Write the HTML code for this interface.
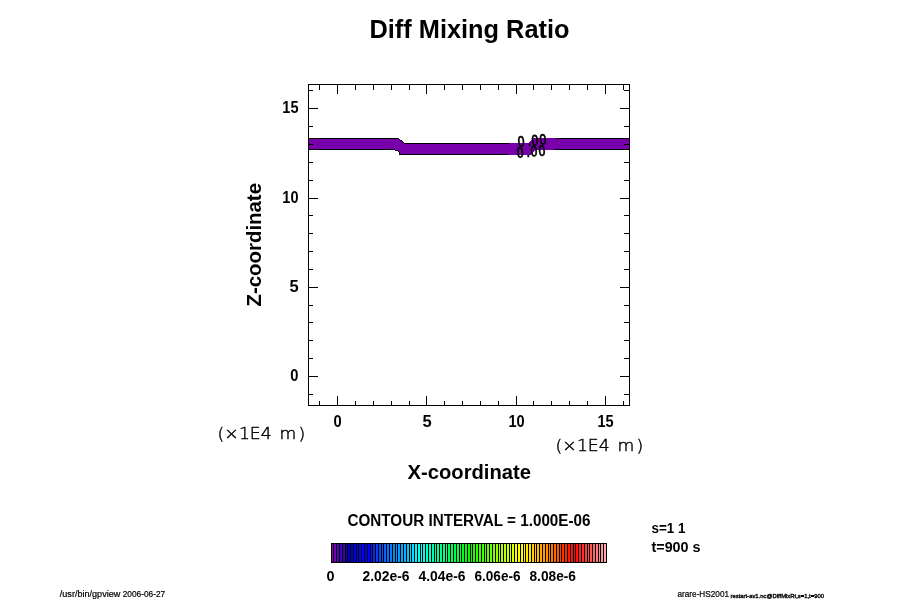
<!DOCTYPE html>
<html><head><meta charset="utf-8"><title>Diff Mixing Ratio</title>
<style>html,body{margin:0;padding:0;background:#fff;overflow:hidden}svg{display:block}</style></head>
<body>
<svg width="900" height="600" viewBox="0 0 900 600">
<rect width="900" height="600" fill="#fff"/>
<g shape-rendering="crispEdges">
<polygon points="309,138 399,138 399,139 400,139 400,140 402,140 402,141 403,141 403,142 404,142 404,143 528,143 533,138 629,138 629,150 535.5,150 530.5,155 399,155 399,152 398,152 398,151 395,151 395,150 309,150" fill="#7800aa"/>
<rect x="309" y="138" width="90" height="1" fill="#000"/>
<rect x="399" y="139" width="1" height="1" fill="#000"/>
<rect x="400" y="140" width="2" height="1" fill="#000"/>
<rect x="402" y="141" width="1" height="1" fill="#000"/>
<rect x="403" y="142" width="1" height="1" fill="#000"/>
<rect x="404" y="143" width="105" height="1" fill="#000"/>
<rect x="556" y="138" width="73" height="1" fill="#000"/>
<rect x="309" y="149" width="86" height="1" fill="#000"/>
<rect x="395" y="150" width="3" height="1" fill="#000"/>
<rect x="398" y="151" width="1" height="1" fill="#000"/>
<rect x="399" y="152" width="1" height="2" fill="#000"/>
<rect x="399" y="154" width="109" height="1" fill="#000"/>
<rect x="554" y="149" width="75" height="1" fill="#000"/>
<rect x="308" y="84" width="322" height="1" fill="#000"/>
<rect x="308" y="405" width="322" height="1" fill="#000"/>
<rect x="308" y="84" width="1" height="322" fill="#000"/>
<rect x="629" y="84" width="1" height="322" fill="#000"/>
<rect x="319" y="401" width="1" height="5" fill="#000"/>
<rect x="319" y="84" width="1" height="6" fill="#000"/>
<rect x="308" y="394" width="5" height="1" fill="#000"/>
<rect x="624" y="394" width="6" height="1" fill="#000"/>
<rect x="337" y="396" width="1" height="10" fill="#000"/>
<rect x="337" y="84" width="1" height="10" fill="#000"/>
<rect x="308" y="376" width="10" height="1" fill="#000"/>
<rect x="620" y="376" width="10" height="1" fill="#000"/>
<rect x="355" y="401" width="1" height="5" fill="#000"/>
<rect x="355" y="84" width="1" height="6" fill="#000"/>
<rect x="308" y="358" width="5" height="1" fill="#000"/>
<rect x="624" y="358" width="6" height="1" fill="#000"/>
<rect x="373" y="401" width="1" height="5" fill="#000"/>
<rect x="373" y="84" width="1" height="6" fill="#000"/>
<rect x="308" y="340" width="5" height="1" fill="#000"/>
<rect x="624" y="340" width="6" height="1" fill="#000"/>
<rect x="391" y="401" width="1" height="5" fill="#000"/>
<rect x="391" y="84" width="1" height="6" fill="#000"/>
<rect x="308" y="322" width="5" height="1" fill="#000"/>
<rect x="624" y="322" width="6" height="1" fill="#000"/>
<rect x="409" y="401" width="1" height="5" fill="#000"/>
<rect x="409" y="84" width="1" height="6" fill="#000"/>
<rect x="308" y="305" width="5" height="1" fill="#000"/>
<rect x="624" y="305" width="6" height="1" fill="#000"/>
<rect x="426" y="396" width="1" height="10" fill="#000"/>
<rect x="426" y="84" width="1" height="10" fill="#000"/>
<rect x="308" y="287" width="10" height="1" fill="#000"/>
<rect x="620" y="287" width="10" height="1" fill="#000"/>
<rect x="444" y="401" width="1" height="5" fill="#000"/>
<rect x="444" y="84" width="1" height="6" fill="#000"/>
<rect x="308" y="269" width="5" height="1" fill="#000"/>
<rect x="624" y="269" width="6" height="1" fill="#000"/>
<rect x="462" y="401" width="1" height="5" fill="#000"/>
<rect x="462" y="84" width="1" height="6" fill="#000"/>
<rect x="308" y="251" width="5" height="1" fill="#000"/>
<rect x="624" y="251" width="6" height="1" fill="#000"/>
<rect x="480" y="401" width="1" height="5" fill="#000"/>
<rect x="480" y="84" width="1" height="6" fill="#000"/>
<rect x="308" y="233" width="5" height="1" fill="#000"/>
<rect x="624" y="233" width="6" height="1" fill="#000"/>
<rect x="498" y="401" width="1" height="5" fill="#000"/>
<rect x="498" y="84" width="1" height="6" fill="#000"/>
<rect x="308" y="215" width="5" height="1" fill="#000"/>
<rect x="624" y="215" width="6" height="1" fill="#000"/>
<rect x="516" y="396" width="1" height="10" fill="#000"/>
<rect x="516" y="84" width="1" height="10" fill="#000"/>
<rect x="308" y="198" width="10" height="1" fill="#000"/>
<rect x="620" y="198" width="10" height="1" fill="#000"/>
<rect x="533" y="401" width="1" height="5" fill="#000"/>
<rect x="533" y="84" width="1" height="6" fill="#000"/>
<rect x="308" y="180" width="5" height="1" fill="#000"/>
<rect x="624" y="180" width="6" height="1" fill="#000"/>
<rect x="551" y="401" width="1" height="5" fill="#000"/>
<rect x="551" y="84" width="1" height="6" fill="#000"/>
<rect x="308" y="162" width="5" height="1" fill="#000"/>
<rect x="624" y="162" width="6" height="1" fill="#000"/>
<rect x="569" y="401" width="1" height="5" fill="#000"/>
<rect x="569" y="84" width="1" height="6" fill="#000"/>
<rect x="308" y="144" width="5" height="1" fill="#000"/>
<rect x="624" y="144" width="6" height="1" fill="#000"/>
<rect x="587" y="401" width="1" height="5" fill="#000"/>
<rect x="587" y="84" width="1" height="6" fill="#000"/>
<rect x="308" y="126" width="5" height="1" fill="#000"/>
<rect x="624" y="126" width="6" height="1" fill="#000"/>
<rect x="605" y="396" width="1" height="10" fill="#000"/>
<rect x="605" y="84" width="1" height="10" fill="#000"/>
<rect x="308" y="108" width="10" height="1" fill="#000"/>
<rect x="620" y="108" width="10" height="1" fill="#000"/>
<rect x="623" y="401" width="1" height="5" fill="#000"/>
<rect x="623" y="84" width="1" height="6" fill="#000"/>
<rect x="308" y="90" width="5" height="1" fill="#000"/>
<rect x="624" y="90" width="6" height="1" fill="#000"/>
<rect x="331" y="543" width="276" height="20" fill="#000"/>
<rect x="332" y="544" width="1" height="18" fill="#8800ad"/>
<rect x="334" y="544" width="2" height="18" fill="#7300bb"/>
<rect x="337" y="544" width="2" height="18" fill="#4f00c3"/>
<rect x="340" y="544" width="2" height="18" fill="#4600c1"/>
<rect x="343" y="544" width="2" height="18" fill="#3400b6"/>
<rect x="346" y="544" width="1" height="18" fill="#1000ac"/>
<rect x="348" y="544" width="2" height="18" fill="#0000b7"/>
<rect x="351" y="544" width="2" height="18" fill="#0000c8"/>
<rect x="354" y="544" width="2" height="18" fill="#0000dc"/>
<rect x="357" y="544" width="1" height="18" fill="#0000ee"/>
<rect x="359" y="544" width="2" height="18" fill="#0000ff"/>
<rect x="362" y="544" width="2" height="18" fill="#0000ff"/>
<rect x="365" y="544" width="2" height="18" fill="#0000ff"/>
<rect x="368" y="544" width="2" height="18" fill="#0000ff"/>
<rect x="371" y="544" width="1" height="18" fill="#0014ff"/>
<rect x="373" y="544" width="2" height="18" fill="#0028ff"/>
<rect x="376" y="544" width="2" height="18" fill="#0040ff"/>
<rect x="379" y="544" width="2" height="18" fill="#004eff"/>
<rect x="382" y="544" width="1" height="18" fill="#0059ff"/>
<rect x="384" y="544" width="2" height="18" fill="#0064ff"/>
<rect x="387" y="544" width="2" height="18" fill="#0071ff"/>
<rect x="390" y="544" width="2" height="18" fill="#007eff"/>
<rect x="393" y="544" width="2" height="18" fill="#008cff"/>
<rect x="396" y="544" width="1" height="18" fill="#0095ff"/>
<rect x="398" y="544" width="2" height="18" fill="#009eff"/>
<rect x="401" y="544" width="2" height="18" fill="#00a9ff"/>
<rect x="404" y="544" width="2" height="18" fill="#00b4ff"/>
<rect x="407" y="544" width="2" height="18" fill="#00c5ff"/>
<rect x="410" y="544" width="1" height="18" fill="#00d3ff"/>
<rect x="412" y="544" width="2" height="18" fill="#00e2ff"/>
<rect x="415" y="544" width="2" height="18" fill="#00f3ff"/>
<rect x="418" y="544" width="2" height="18" fill="#00fffa"/>
<rect x="421" y="544" width="1" height="18" fill="#00ffee"/>
<rect x="423" y="544" width="2" height="18" fill="#00ffe1"/>
<rect x="426" y="544" width="2" height="18" fill="#00ffd2"/>
<rect x="429" y="544" width="2" height="18" fill="#00ffc3"/>
<rect x="432" y="544" width="2" height="18" fill="#00ffb4"/>
<rect x="435" y="544" width="1" height="18" fill="#00ffa8"/>
<rect x="437" y="544" width="2" height="18" fill="#00ff9b"/>
<rect x="440" y="544" width="2" height="18" fill="#00ff8c"/>
<rect x="443" y="544" width="2" height="18" fill="#00ff7d"/>
<rect x="446" y="544" width="1" height="18" fill="#00ff70"/>
<rect x="448" y="544" width="2" height="18" fill="#00ff64"/>
<rect x="451" y="544" width="2" height="18" fill="#00ff55"/>
<rect x="454" y="544" width="2" height="18" fill="#00ff46"/>
<rect x="457" y="544" width="2" height="18" fill="#00ff37"/>
<rect x="460" y="544" width="1" height="18" fill="#00ff2a"/>
<rect x="462" y="544" width="2" height="18" fill="#00fe1d"/>
<rect x="465" y="544" width="2" height="18" fill="#00fb0b"/>
<rect x="468" y="544" width="2" height="18" fill="#05fb00"/>
<rect x="471" y="544" width="1" height="18" fill="#12fc00"/>
<rect x="473" y="544" width="2" height="18" fill="#1efe00"/>
<rect x="476" y="544" width="2" height="18" fill="#2cff00"/>
<rect x="479" y="544" width="2" height="18" fill="#3aff00"/>
<rect x="482" y="544" width="2" height="18" fill="#47ff00"/>
<rect x="485" y="544" width="1" height="18" fill="#53ff00"/>
<rect x="487" y="544" width="2" height="18" fill="#60ff00"/>
<rect x="490" y="544" width="2" height="18" fill="#70ff00"/>
<rect x="493" y="544" width="2" height="18" fill="#80ff00"/>
<rect x="496" y="544" width="2" height="18" fill="#91ff00"/>
<rect x="499" y="544" width="1" height="18" fill="#a0ff00"/>
<rect x="501" y="544" width="2" height="18" fill="#aeff00"/>
<rect x="504" y="544" width="2" height="18" fill="#beff00"/>
<rect x="507" y="544" width="2" height="18" fill="#ccff00"/>
<rect x="510" y="544" width="1" height="18" fill="#d9ff00"/>
<rect x="512" y="544" width="2" height="18" fill="#e4ff00"/>
<rect x="515" y="544" width="2" height="18" fill="#f2ff00"/>
<rect x="518" y="544" width="2" height="18" fill="#ffff00"/>
<rect x="521" y="544" width="2" height="18" fill="#fff700"/>
<rect x="524" y="544" width="1" height="18" fill="#fff000"/>
<rect x="526" y="544" width="2" height="18" fill="#ffe800"/>
<rect x="529" y="544" width="2" height="18" fill="#ffe000"/>
<rect x="532" y="544" width="2" height="18" fill="#ffd100"/>
<rect x="535" y="544" width="1" height="18" fill="#ffc500"/>
<rect x="537" y="544" width="2" height="18" fill="#ffb900"/>
<rect x="540" y="544" width="2" height="18" fill="#ffab00"/>
<rect x="543" y="544" width="2" height="18" fill="#ff9e00"/>
<rect x="546" y="544" width="2" height="18" fill="#ff9000"/>
<rect x="549" y="544" width="1" height="18" fill="#ff8400"/>
<rect x="551" y="544" width="2" height="18" fill="#ff7800"/>
<rect x="554" y="544" width="2" height="18" fill="#ff6900"/>
<rect x="557" y="544" width="2" height="18" fill="#ff5600"/>
<rect x="560" y="544" width="1" height="18" fill="#ff4400"/>
<rect x="562" y="544" width="2" height="18" fill="#ff3200"/>
<rect x="565" y="544" width="2" height="18" fill="#ff2500"/>
<rect x="568" y="544" width="2" height="18" fill="#ff1800"/>
<rect x="571" y="544" width="2" height="18" fill="#ff1103"/>
<rect x="574" y="544" width="1" height="18" fill="#ff0c08"/>
<rect x="576" y="544" width="2" height="18" fill="#ff0f0f"/>
<rect x="579" y="544" width="2" height="18" fill="#ff1e1e"/>
<rect x="582" y="544" width="2" height="18" fill="#ff2d2d"/>
<rect x="585" y="544" width="2" height="18" fill="#ff3c3c"/>
<rect x="588" y="544" width="1" height="18" fill="#ff4848"/>
<rect x="590" y="544" width="2" height="18" fill="#ff5555"/>
<rect x="593" y="544" width="2" height="18" fill="#ff6464"/>
<rect x="596" y="544" width="2" height="18" fill="#ff7878"/>
<rect x="599" y="544" width="1" height="18" fill="#ff8989"/>
<rect x="601" y="544" width="2" height="18" fill="#ff9898"/>
<rect x="604" y="544" width="2" height="18" fill="#ffaaaa"/>
</g>
<g fill="#000">
<text x="369.5" y="38" font-size="25" font-weight="bold" text-anchor="start" font-family='"Liberation Sans", sans-serif' textLength="200" lengthAdjust="spacingAndGlyphs" >Diff Mixing Ratio</text>
<text x="407.5" y="479" font-size="21" font-weight="bold" text-anchor="start" font-family='"Liberation Sans", sans-serif' textLength="123.5" lengthAdjust="spacingAndGlyphs" >X-coordinate</text>
<text transform="translate(261,306.5) rotate(-90)" font-size="21" font-weight="bold" font-family='"Liberation Sans", sans-serif' textLength="123.5" lengthAdjust="spacingAndGlyphs">Z-coordinate</text>
<text x="298.5" y="113" font-size="15.6" font-weight="bold" text-anchor="end" font-family='"Liberation Sans", sans-serif' textLength="16.2" lengthAdjust="spacingAndGlyphs" >15</text>
<text x="298.5" y="203" font-size="15.6" font-weight="bold" text-anchor="end" font-family='"Liberation Sans", sans-serif' textLength="16.2" lengthAdjust="spacingAndGlyphs" >10</text>
<text x="298.8" y="292" font-size="15.6" font-weight="bold" text-anchor="end" font-family='"Liberation Sans", sans-serif' textLength="9.2" lengthAdjust="spacingAndGlyphs" >5</text>
<text x="298.5" y="381" font-size="15.6" font-weight="bold" text-anchor="end" font-family='"Liberation Sans", sans-serif' textLength="8.2" lengthAdjust="spacingAndGlyphs" >0</text>
<text x="337.5" y="427" font-size="15.6" font-weight="bold" text-anchor="middle" font-family='"Liberation Sans", sans-serif' textLength="8.2" lengthAdjust="spacingAndGlyphs" >0</text>
<text x="427" y="427" font-size="15.6" font-weight="bold" text-anchor="middle" font-family='"Liberation Sans", sans-serif' textLength="9.2" lengthAdjust="spacingAndGlyphs" >5</text>
<text x="516.5" y="427" font-size="15.6" font-weight="bold" text-anchor="middle" font-family='"Liberation Sans", sans-serif' textLength="16.2" lengthAdjust="spacingAndGlyphs" >10</text>
<text x="605.5" y="427" font-size="15.6" font-weight="bold" text-anchor="middle" font-family='"Liberation Sans", sans-serif' textLength="16.2" lengthAdjust="spacingAndGlyphs" >15</text>
<text transform="scale(1.15,1)" x="189.22 195.04 207.74 217.13 226.70 236.52 243.04 259.65" y="438.7" font-size="15" font-weight="200" font-family='"DejaVu Sans Light", "DejaVu Sans", sans-serif' stroke="#000" stroke-width="0.4">(×1E4 m)</text>
<text transform="scale(1.15,1)" x="483.13 488.96 501.65 511.04 520.61 530.43 536.96 553.57" y="450.7" font-size="15" font-weight="200" font-family='"DejaVu Sans Light", "DejaVu Sans", sans-serif' stroke="#000" stroke-width="0.4">(×1E4 m)</text>
<text x="347.5" y="526.2" font-size="15.6" font-weight="bold" text-anchor="start" font-family='"Liberation Sans", sans-serif' textLength="243" lengthAdjust="spacingAndGlyphs" >CONTOUR INTERVAL = 1.000E-06</text>
<text x="651.5" y="533" font-size="14" font-weight="bold" text-anchor="start" font-family='"Liberation Sans", sans-serif' textLength="34" lengthAdjust="spacingAndGlyphs" >s=1 1</text>
<text x="651.5" y="552" font-size="14" font-weight="bold" text-anchor="start" font-family='"Liberation Sans", sans-serif' textLength="49" lengthAdjust="spacingAndGlyphs" >t=900 s</text>
<text x="326.5" y="581" font-size="14" font-weight="bold" text-anchor="start" font-family='"Liberation Sans", sans-serif' textLength="8" lengthAdjust="spacingAndGlyphs" >0</text>
<text x="362.5" y="581" font-size="14" font-weight="bold" text-anchor="start" font-family='"Liberation Sans", sans-serif' textLength="47" lengthAdjust="spacingAndGlyphs" >2.02e-6</text>
<text x="418.5" y="581" font-size="14" font-weight="bold" text-anchor="start" font-family='"Liberation Sans", sans-serif' textLength="47" lengthAdjust="spacingAndGlyphs" >4.04e-6</text>
<text x="474.5" y="581" font-size="14" font-weight="bold" text-anchor="start" font-family='"Liberation Sans", sans-serif' textLength="46" lengthAdjust="spacingAndGlyphs" >6.06e-6</text>
<text x="529.5" y="581" font-size="14" font-weight="bold" text-anchor="start" font-family='"Liberation Sans", sans-serif' textLength="46.5" lengthAdjust="spacingAndGlyphs" >8.08e-6</text>
<text y="597" font-size="8.5" font-family='"Liberation Sans", sans-serif' stroke="#000" stroke-width="0.2"><tspan x="59.8" textLength="60.5" lengthAdjust="spacingAndGlyphs">/usr/bin/gpview</tspan><tspan x="120.5"> </tspan><tspan x="122.7" textLength="42.5" lengthAdjust="spacingAndGlyphs">2006-06-27</tspan></text>
<text x="677.5" y="597" font-size="8.5" font-family='"Liberation Sans", sans-serif' stroke="#000" stroke-width="0.2"><tspan textLength="51.5" lengthAdjust="spacingAndGlyphs">arare-HS2001</tspan><tspan font-size="5.8" x="730.5" dy="1.2" stroke-width="0.35" textLength="93.5" lengthAdjust="spacingAndGlyphs">restart-av1.nc@DiffMixRt,s=1,t=900</tspan></text>
<text transform="translate(518.3,146.7) rotate(-5.2) scale(0.82,1)" x="0 11.8 16.8 26.6" font-size="14.7" font-family='"Liberation Sans", sans-serif' stroke="#000" stroke-width="0.8">0.00</text>
<text transform="translate(517.2,157.7) rotate(-4.8) scale(0.82,1)" x="0 11.8 16.8 26.6" font-size="14.7" font-family='"Liberation Sans", sans-serif' stroke="#000" stroke-width="0.8">0.00</text>
</g>
</svg>
</body></html>
